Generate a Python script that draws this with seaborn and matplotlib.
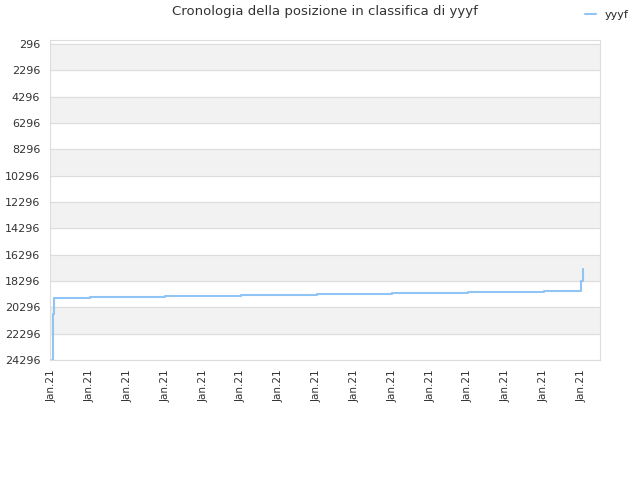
import matplotlib
matplotlib.use('Agg')
import matplotlib.pyplot as plt
import seaborn as sns
import pandas as pd

# step positions (in tick units) and ranking values
pos = [0.0, 0.02, 0.05, 1.0, 3.0, 5.0, 7.0, 9.0, 11.0, 13.0, 13.98, 14.0, 14.03]
rank = [24296, 20800, 19590, 19510, 19440, 19360, 19290, 19210, 19140, 19070, 18300, 18300, 17400]
tick_labels = ['Jan.21'] * 15
yticks = list(range(296, 24297, 2000))

df = pd.DataFrame({'pos': pos, 'rank': rank})

sns.set_style('white')
fig, ax = plt.subplots(figsize=(6.4, 4.8), dpi=100)
fig.subplots_adjust(left=0.078, right=0.938, top=0.917, bottom=0.25)

for i in range(0, len(yticks) - 1, 2):
    ax.axhspan(yticks[i], yticks[i + 1], color='#f2f2f2', zorder=0)
for y in yticks:
    ax.axhline(y, color='#dddddd', lw=0.8, zorder=1)

sns.lineplot(data=df, x='pos', y='rank', drawstyle='steps-post', color='#90c4f4',
             lw=1.5, ax=ax, label='yyyf', zorder=3)

ax.set_ylim(24296, -10)
ax.set_xlim(-0.05, 14.5)
ax.set_yticks(yticks)
ax.set_yticklabels([str(v) for v in yticks], fontsize=8, color='#333333')
ax.set_xticks(range(15))
ax.set_xticklabels(tick_labels, rotation=90, fontsize=7.5, color='#333333')
ax.set_xlabel('')
ax.set_ylabel('')
for s in ax.spines.values():
    s.set_color('#dddddd')
ax.set_title('Cronologia della posizione in classifica di yyyf', fontsize=9.5, color='#333333', pad=18)
ax.legend(loc='upper right', bbox_to_anchor=(1.07, 1.125), frameon=False, fontsize=8, handlelength=1)

fig.savefig('out.png')
